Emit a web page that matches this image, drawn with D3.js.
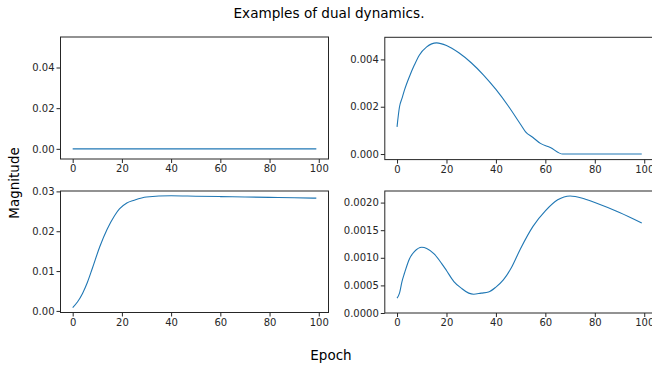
<!DOCTYPE html>
<html><head><meta charset="utf-8">
<script src="https://cdn.jsdelivr.net/npm/d3@7"></script>
<style>
html,body{margin:0;padding:0;background:#fff;}
svg{display:block;font-family:"DejaVu Sans",sans-serif;}
</style></head>
<body>
<svg id="c" width="652" height="366"></svg>
<script>
// ---- data ----
const title = "Examples of dual dynamics.";
const xLabel = "Epoch";
const yLabel = "Magnitude";
const xTicks = [0, 20, 40, 60, 80, 100];

const epochsA = [0, 99];
const valuesA = [0, 0];
const yTicksA = [0, 0.02, 0.04];

const epochsB = [0, 1, 2, 3, 5, 7, 9, 12, 16, 20, 25, 30, 35, 40, 45, 50, 52, 55, 58, 62, 67, 80, 99];
const valuesB = [0.00115, 0.0020, 0.00235, 0.0027, 0.00327, 0.00376, 0.00418, 0.00453, 0.0047, 0.00459, 0.00428, 0.00386, 0.00334, 0.00273, 0.00203, 0.00125, 0.00094, 0.0007, 0.00045, 0.00028, 0.0, 0.0, 0.0];
const yTicksB = [0, 0.002, 0.004];

const epochsC = [0, 2, 4, 6, 8, 11, 14, 17, 19, 22, 25, 30, 40, 50, 60, 70, 80, 90, 99];
const valuesC = [0.00084, 0.0023, 0.0044, 0.0072, 0.0107, 0.0161, 0.0205, 0.0239, 0.0256, 0.0271, 0.0278, 0.0286, 0.0289, 0.0288, 0.0287, 0.0286, 0.0285, 0.0284, 0.0283];
const yTicksC = [0, 0.01, 0.02, 0.03];

const epochsD = [0, 1, 2, 3, 5, 7, 10, 12, 15, 18, 20, 23, 26, 29, 31, 34, 37, 40, 43, 46, 50, 55, 60, 65, 70, 75, 80, 90, 99];
const valuesD = [0.00027, 0.00036, 0.00057, 0.00072, 0.00098, 0.00111, 0.00119, 0.00117, 0.00107, 0.0009, 0.00077, 0.00057, 0.00045, 0.00036, 0.00034, 0.00036, 0.00038, 0.00047, 0.0006, 0.0008, 0.00117, 0.00157, 0.00185, 0.00205, 0.00212, 0.00208, 0.002, 0.00182, 0.00163];
const yTicksD = [0, 0.0005, 0.001, 0.0015, 0.002];

// ---- layout ----
const svg = d3.select("#c");
const ink = "#262626";
const lineColor = "#1f77b4";

const panels = [
  {x0: 60.5, x1: 328.5, y0: 37, y1: 159, ep: epochsA, val: valuesA, yd: [-0.005, 0.055], yt: yTicksA, fmt: ".2f"},
  {x0: 384.8, x1: 654, y0: 37.3, y1: 159.6, ep: epochsB, val: valuesB, yd: [-0.000235, 0.004935], yt: yTicksB, fmt: ".3f"},
  {x0: 60.5, x1: 328.5, y0: 191, y1: 312.5, ep: epochsC, val: valuesC, yd: [-0.0004, 0.0301], yt: yTicksC, fmt: ".2f"},
  {x0: 384.8, x1: 654, y0: 191, y1: 313, ep: epochsD, val: valuesD, yd: [0, 0.00221], yt: yTicksD, fmt: ".4f"}
];

panels.forEach(p => {
  const x = d3.scaleLinear().domain([-4.95, 103.95]).range([p.x0, p.x1]);
  const y = d3.scaleLinear().domain(p.yd).range([p.y1, p.y0]);
  const g = svg.append("g");

  const line = d3.line().x((d, i) => x(p.ep[i])).y(d => y(d)).curve(d3.curveMonotoneX);
  g.append("path").datum(p.val).attr("d", line)
    .attr("fill", "none").attr("stroke", lineColor).attr("stroke-width", 1.1);

  const ax = g.append("g").attr("transform", `translate(0,${p.y1})`)
    .call(d3.axisBottom(x).tickValues(xTicks).tickSizeOuter(0).tickSize(4).tickPadding(2).tickFormat(d3.format("d")));
  const ay = g.append("g").attr("transform", `translate(${p.x0},0)`)
    .call(d3.axisLeft(y).tickValues(p.yt).tickSizeOuter(0).tickSize(4).tickPadding(2).tickFormat(d3.format(p.fmt)));
  [ax, ay].forEach(a => {
    a.select(".domain").remove();
    a.selectAll("line").attr("stroke", ink).attr("stroke-width", 1);
    a.selectAll("text").attr("fill", ink).style("font-size", "10px").style("font-family", "DejaVu Sans");
  });

  g.append("rect").attr("x", p.x0).attr("y", p.y0)
    .attr("width", p.x1 - p.x0).attr("height", p.y1 - p.y0)
    .attr("fill", "none").attr("stroke", ink).attr("stroke-width", 1);
});

svg.append("text").attr("x", 329).attr("y", 17.5).attr("text-anchor", "middle")
  .attr("fill", "#000").style("font-size", "13.6px").text(title);
svg.append("text").attr("x", 331).attr("y", 360).attr("text-anchor", "middle")
  .attr("fill", "#000").style("font-size", "13.5px").text(xLabel);
svg.append("text").attr("transform", "translate(19,183) rotate(-90)").attr("text-anchor", "middle")
  .attr("fill", "#000").style("font-size", "13.5px").text(yLabel);
</script>
</body></html>
